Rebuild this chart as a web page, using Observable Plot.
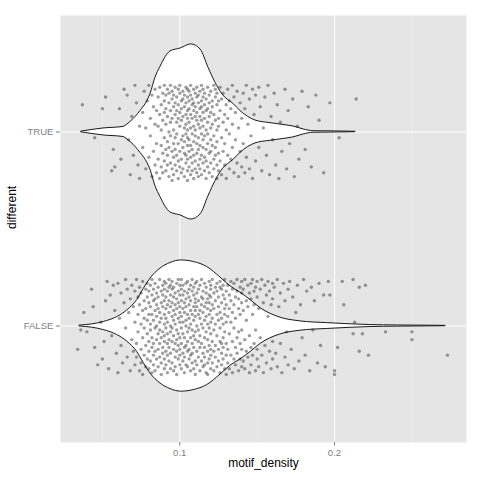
<!DOCTYPE html>
<html><head><meta charset="utf-8">
<script src="https://cdn.jsdelivr.net/npm/d3@7"></script>
<script src="https://cdn.jsdelivr.net/npm/@observablehq/plot@0.6"></script>
<style>body{margin:0;background:#fff;}</style>
</head><body><div id="chart"></div>
<script>
// categories bottom -> top (y positions 1, 2)
const categories = ["FALSE", "TRUE"];
const xTicks = [0.1, 0.2];
const xMinorTicks = [0.05, 0.15, 0.25];
const xLabel = "motif_density";
const yLabel = "different";

// violin outlines: motif_density and half-width (in category units)
const trueViolinX = [.0365,.0507,.0636,.0662,.0714,.0746,.0791,.0811,.0843,.0875,.0908,.0940,.1005,.1074,.1134,.1186,.1231,.1276,.1347,.1392,.1489,.1580,.1670,.1735,.1800,.1864,.1974,.2136];
const trueViolinHalf = [.002,.018,.026,.039,.077,.108,.160,.196,.280,.335,.385,.415,.430,.451,.425,.330,.253,.193,.144,.108,.059,.046,.036,.028,.013,.004,.003,.001];
const falseViolinX = [.0354,.0509,.0595,.0660,.0725,.0767,.0811,.0875,.0940,.1009,.1090,.1177,.1263,.1328,.1392,.1457,.1522,.1651,.1780,.1953,.2104,.2233,.2408,.2718];
const falseViolinHalf = [.002,.021,.046,.080,.134,.191,.245,.296,.325,.338,.330,.304,.250,.204,.172,.134,.092,.043,.024,.015,.009,.005,.003,.001];

// jittered observations: [motif_density, vertical jitter]
const truePoints = [
[.037,.14],[.045,-.03],[.050,.12],[.052,.18],[.056,-.20],[.057,-.09],[.058,-.18],[.061,.12],[.062,-.14],[.064,.22],[.066,.19],[.067,-.04],[.068,-.22],[.069,.08],[.070,-.12],[.071,.24],[.072,.15],[.073,-.17],[.074,.03],[.074,-.24],
[.076,.10],[.076,-.08],[.077,.21],[.078,-.19],[.078,.02],[.079,.16],[.080,-.13],[.080,.24],[.081,-.02],[.081,.07],[.082,-.23],[.082,.19],[.083,-.10],[.083,.13],[.084,-.17],[.084,.04],[.084,.22],[.085,-.06],[.085,.11],[.085,-.21],
[.086,.18],[.086,-.14],[.086,.03],[.087,-.24],[.087,.09],[.087,.23],[.088,-.07],[.088,.14],[.088,-.18],[.088,.01],[.089,.20],[.089,-.11],[.089,.06],[.089,-.21],[.090,.16],[.090,-.03],[.090,.24],[.090,-.15],[.090,.10],[.091,-.09],[.091,.19],[.091,-.20],[.091,.04],[.091,.12],[.092,-.05],[.092,.22],[.092,-.17],[.092,.08],[.092,-.12],[.093,.15],[.093,-.23],[.093,.00],[.093,.20],[.093,-.08],[.094,.11],[.094,-.16],[.094,.05],[.094,.24],[.094,-.02],[.095,-.19],[.095,.17],[.095,-.10],[.095,.07],[.095,.21],[.095,-.25],
[.096,.13],[.096,-.06],[.096,.01],[.096,-.22],[.096,.19],[.096,-.13],[.097,.09],[.097,-.17],[.097,.23],[.097,-.03],[.097,.15],[.097,-.09],[.098,.05],[.098,-.20],[.098,.18],[.098,-.12],[.098,.11],[.098,-.01],[.099,.22],[.099,-.15],[.099,.07],[.099,-.24],[.099,.14],[.099,-.06],[.100,.03],[.100,.20],[.100,-.18],[.100,.10],[.100,-.10],[.100,.24],[.101,-.04],[.101,.16],[.101,-.21],[.101,.06],[.101,-.14],[.101,.12],[.102,-.08],[.102,.21],[.102,-.02],[.102,.17],[.102,-.19],[.102,.08],[.103,-.11],[.103,.02],[.103,.19],[.103,-.23],[.103,.13],[.103,-.05],[.104,.09],[.104,-.16],[.104,.23],[.104,-.01],[.104,.15],[.104,-.12],[.104,.04],[.105,-.20],[.105,.18],[.105,-.07],[.105,.11],[.105,-.25],[.105,.01],[.105,.22],[.105,-.14],[.105,.07],[.105,-.03],
[.106,.16],[.106,-.10],[.106,.05],[.106,-.18],[.106,.21],[.106,-.04],[.106,.12],[.107,-.22],[.107,.09],[.107,-.13],[.107,.19],[.107,-.07],[.107,.02],[.107,.24],[.108,-.16],[.108,.14],[.108,-.01],[.108,.07],[.108,-.20],[.108,.17],[.108,-.09],[.109,.11],[.109,-.24],[.109,.03],[.109,.22],[.109,-.12],[.109,.15],[.109,-.05],[.110,.08],[.110,-.19],[.110,.20],[.110,-.02],[.110,.13],[.110,-.15],[.110,.01],[.111,.18],[.111,-.11],[.111,.06],[.111,-.21],[.111,.23],[.111,-.06],[.111,.10],[.112,-.17],[.112,.15],[.112,-.03],[.112,.04],[.112,-.23],[.112,.19],[.112,-.09],[.113,.12],[.113,-.14],[.113,.02],[.113,.21],[.113,-.19],[.113,.08],[.113,-.07],[.114,.16],[.114,-.12],[.114,.24],[.114,-.01],[.114,.06],[.114,-.22],[.114,.13],[.115,-.08],[.115,.18],[.115,-.16],[.115,.03],[.115,.10],[.115,-.04],[.115,.22],
[.116,-.20],[.116,.14],[.116,-.02],[.116,.07],[.116,-.13],[.116,.20],[.117,-.09],[.117,.11],[.117,-.24],[.117,.01],[.117,.17],[.117,-.15],[.118,.05],[.118,.23],[.118,-.06],[.118,-.18],[.118,.12],[.118,-.01],[.119,.19],[.119,-.11],[.119,.08],[.119,-.21],[.119,.15],[.120,-.04],[.120,.02],[.120,-.16],[.120,.21],[.120,.10],[.120,-.10],[.121,.16],[.121,-.23],[.121,.04],[.121,-.07],[.121,.13],[.122,-.14],[.122,.24],[.122,-.02],[.122,.09],[.122,-.19],[.123,.18],[.123,-.08],[.123,.06],[.123,-.12],[.123,.22],[.124,-.17],[.124,.01],[.124,.14],[.124,-.05],[.124,-.24],[.124,.20],[.125,.07],[.125,-.11],[.125,.16],[.125,-.20],[.125,.03],
[.126,-.15],[.126,.11],[.126,.23],[.127,-.03],[.127,-.22],[.127,.17],[.128,.05],[.128,-.10],[.128,.20],[.129,-.17],[.129,.09],[.129,-.06],[.130,.14],[.130,-.24],[.130,.01],[.131,.22],[.131,-.12],[.131,.07],[.132,-.19],[.132,.16],[.132,-.01],[.133,.12],[.133,-.14],[.134,.24],[.134,-.08],[.134,.04],[.135,-.21],[.135,.18],[.136,-.04],[.136,.10],[.137,-.16],[.137,.21],[.138,.02],[.138,-.23],[.139,.15],[.139,-.10],[.140,.07],[.140,-.18],
[.141,.20],[.141,-.06],[.142,-.21],[.142,.12],[.143,.24],[.143,-.13],[.144,.04],[.145,-.19],[.145,.17],[.146,-.02],[.147,.22],[.147,-.24],[.148,.09],[.149,-.15],[.149,.19],
[.151,-.08],[.151,.23],[.152,.13],[.153,-.20],[.154,.02],[.155,.18],[.156,-.12],[.157,.24],[.158,-.22],[.159,.08],[.160,-.04],[.161,.20],[.162,-.17],[.163,.14],[.164,-.24],[.165,.05],[.166,-.10],[.168,.22],[.169,-.19],[.170,.11],[.171,-.06],[.173,.17],[.174,-.23],[.176,.03],[.177,-.14],[.179,.21],[.181,-.09],[.183,.13],[.185,-.18],[.188,.19],[.190,.06],[.193,-.21],[.197,.15],[.203,-.03],[.214,.17]
];

const falsePoints = [
[.034,-.12],[.036,-.02],[.038,.07],[.040,-.03],[.043,.19],[.044,.10],[.045,-.11],[.047,-.20],[.049,.02],[.050,-.17],[.051,-.08],[.052,.13],[.053,.23],[.054,-.22],[.055,.16],[.056,-.05],[.057,.21],[.058,.08],[.059,-.14],[.060,.22],[.060,-.24],[.061,.04],[.062,.17],[.062,-.10],[.063,-.19],[.064,.12],[.065,.24],[.065,-.01],[.066,-.16],[.066,.19],[.067,.07],[.068,-.23],[.068,.14],[.069,-.07],[.069,.21],[.070,-.13],
[.070,.10],[.071,-.20],[.071,.18],[.071,.02],[.072,-.09],[.072,.24],[.072,-.16],[.073,.06],[.073,.15],[.073,-.03],[.074,-.23],[.074,.20],[.074,.11],[.075,-.12],[.075,.01],[.075,-.19],[.075,.17],[.076,.08],[.076,-.06],[.076,.23],[.076,-.25],[.077,.13],[.077,-.15],[.077,.04],[.077,-.01],[.078,.19],[.078,-.10],[.078,-.21],[.078,.09],[.079,.15],[.079,-.04],[.079,.22],[.079,-.17],[.079,.03],[.080,-.08],[.080,.12],[.080,-.22],[.080,.18],[.080,.06],[.080,-.13],
[.081,.21],[.081,-.02],[.081,-.18],[.081,.10],[.081,.01],[.082,-.11],[.082,.16],[.082,-.24],[.082,.06],[.082,.24],[.082,-.06],[.083,.13],[.083,-.15],[.083,.03],[.083,-.20],[.083,.19],[.083,-.09],[.084,.08],[.084,-.01],[.084,.22],[.084,-.13],[.084,.14],[.084,-.23],[.085,.05],[.085,-.07],[.085,.17],[.085,-.17],[.085,.11],[.085,.00],[.086,-.12],[.086,.20],[.086,-.04],[.086,.09],[.086,-.21],[.086,.15],[.087,-.09],[.087,.02],[.087,.24],[.087,-.16],[.087,.07],[.087,-.02],[.088,.18],[.088,-.19],[.088,.12],[.088,-.06],[.088,.04],[.088,-.25],[.089,.21],[.089,-.11],[.089,.10],[.089,-.03],[.089,.16],[.089,-.14],[.090,.06],[.090,-.22],[.090,.23],[.090,-.08],[.090,.13],[.090,.01],[.090,-.17],[.090,.19],[.090,-.05],
[.091,.09],[.091,-.13],[.091,.22],[.091,-.01],[.091,.15],[.091,-.20],[.091,.04],[.092,-.09],[.092,.18],[.092,-.24],[.092,.11],[.092,-.04],[.092,.02],[.092,-.15],[.093,.20],[.093,-.07],[.093,.13],[.093,-.18],[.093,.07],[.093,.24],[.093,-.11],[.094,.00],[.094,.16],[.094,-.22],[.094,.10],[.094,-.03],[.094,.21],[.094,-.14],[.095,.05],[.095,-.08],[.095,.19],[.095,-.19],[.095,.12],[.095,-.01],[.095,.23],[.096,-.12],[.096,.08],[.096,-.23],[.096,.15],[.096,-.05],[.096,.03],[.096,.20],[.097,-.16],[.097,.11],[.097,-.09],[.097,.17],[.097,.01],[.097,-.21],[.097,.06],[.098,-.02],[.098,.22],[.098,-.13],[.098,.14],[.098,-.25],[.098,.09],[.098,-.07],[.099,.18],[.099,-.17],[.099,.04],[.099,.12],[.099,-.10],[.099,.24],[.099,-.04],[.100,.07],[.100,-.20],[.100,.16],[.100,-.12],[.100,.02],[.100,.21],[.100,-.15],[.100,.10],[.100,-.06],
[.101,.13],[.101,-.22],[.101,.05],[.101,.19],[.101,-.09],[.101,-.01],[.101,.24],[.102,-.14],[.102,.09],[.102,-.18],[.102,.16],[.102,-.04],[.102,.02],[.102,.21],[.103,-.11],[.103,.12],[.103,-.24],[.103,.07],[.103,-.06],[.103,.18],[.103,-.16],[.104,.03],[.104,.22],[.104,-.10],[.104,.14],[.104,-.20],[.104,.00],[.104,.10],[.105,-.13],[.105,.17],[.105,-.03],[.105,.06],[.105,-.21],[.105,.23],[.105,-.08],[.106,.11],[.106,-.17],[.106,.19],[.106,-.01],[.106,.04],[.106,-.12],[.106,.15],[.107,-.23],[.107,.08],[.107,-.06],[.107,.21],[.107,-.15],[.107,.01],[.107,.13],[.108,-.09],[.108,.18],[.108,-.19],[.108,.06],[.108,-.02],[.108,.24],[.108,-.14],[.109,.10],[.109,-.05],[.109,.16],[.109,-.22],[.109,.03],[.109,.20],[.109,-.11],[.110,.08],[.110,-.18],[.110,.14],[.110,-.03],[.110,.22],[.110,-.25],[.110,.12],[.110,-.07],[.110,.05],
[.111,-.13],[.111,.17],[.111,.00],[.111,-.20],[.111,.10],[.111,.23],[.112,-.08],[.112,.06],[.112,-.16],[.112,.19],[.112,-.02],[.112,.13],[.113,-.23],[.113,.04],[.113,-.11],[.113,.21],[.113,.08],[.113,-.05],[.114,.15],[.114,-.18],[.114,.01],[.114,.24],[.114,-.09],[.114,.11],[.115,-.14],[.115,.18],[.115,-.01],[.115,.07],[.115,-.21],[.115,.14],[.116,-.06],[.116,.22],[.116,-.16],[.116,.03],[.116,.10],[.116,-.11],[.117,.17],[.117,-.24],[.117,.05],[.117,-.03],[.117,.20],[.118,-.13],[.118,.09],[.118,-.19],[.118,.14],[.118,-.07],[.118,.01],[.119,.23],[.119,-.10],[.119,.12],[.119,-.17],[.119,.06],[.119,-.01],[.120,.19],[.120,-.22],[.120,.08],[.120,-.12],[.120,.15],[.120,-.04],[.120,.02],[.120,.21],[.120,-.15],[.119,.16],[.118,-.25],[.117,.12],[.116,-.20],
[.121,.11],[.121,-.08],[.121,.24],[.121,-.19],[.121,.04],[.122,-.13],[.122,.17],[.122,-.02],[.122,.09],[.122,-.23],[.123,.20],[.123,-.10],[.123,.13],[.123,-.16],[.123,.01],[.124,.06],[.124,-.21],[.124,.18],[.124,-.05],[.124,.22],[.125,-.12],[.125,.10],[.125,-.18],[.125,.03],[.125,.15],[.126,-.08],[.126,.23],[.126,-.24],[.126,.07],[.126,-.01],[.127,.19],[.127,-.14],[.127,.12],[.127,-.20],[.127,.04],[.128,-.06],[.128,.16],[.128,-.11],[.128,.21],[.128,-.17],[.129,.09],[.129,-.03],[.129,.24],[.129,-.22],[.129,.14],[.130,-.09],[.130,.02],[.130,.18],[.130,-.15],[.130,.11],[.130,-.25],[.129,.06],[.128,.01],[.127,-.09],[.126,.20],
[.131,.21],[.131,-.12],[.131,.05],[.131,-.19],[.132,.16],[.132,-.04],[.132,.09],[.132,-.22],[.133,.23],[.133,-.15],[.133,.02],[.133,.13],[.134,-.08],[.134,.19],[.134,-.24],[.134,.07],[.135,-.17],[.135,.11],[.135,-.01],[.135,.22],[.136,-.11],[.136,.15],[.136,-.20],[.136,.04],[.137,.18],[.137,-.06],[.137,.24],[.137,-.14],[.138,.09],[.138,-.23],[.138,.14],[.138,-.03],[.139,.20],[.139,-.17],[.139,.06],[.139,-.09],[.140,.12],[.140,-.21],[.140,.17],[.140,-.02],[.140,.23],[.140,-.12],
[.141,.08],[.141,-.18],[.141,.19],[.142,-.07],[.142,.24],[.142,-.22],[.143,.13],[.143,-.13],[.143,.03],[.144,.21],[.144,-.16],[.144,.10],[.145,-.24],[.145,.17],[.145,-.05],[.146,.22],[.146,-.11],[.146,.14],[.146,-.20],[.147,.06],[.147,.24],[.147,-.15],[.148,.18],[.148,-.09],[.148,.11],[.149,-.23],[.149,.20],[.149,-.02],[.150,.15],[.150,-.17],[.150,.23],[.150,-.12],
[.151,.09],[.151,-.21],[.152,.19],[.152,-.06],[.153,.24],[.153,-.15],[.154,.12],[.154,-.24],[.155,.21],[.155,-.10],[.156,.16],[.156,-.19],[.157,.05],[.157,.23],[.158,-.13],[.158,.18],[.159,-.22],[.159,.11],[.160,.22],[.160,-.08],[.160,-.17],[.160,.14],
[.161,.20],[.162,-.14],[.163,.24],[.163,-.21],[.164,.10],[.165,-.09],[.165,.17],[.166,-.24],[.167,.22],[.168,-.16],[.168,.13],[.169,-.03],[.170,.19],[.170,-.20],
[.171,.23],[.172,-.12],[.173,.15],[.174,-.22],[.175,.07],[.176,.21],[.177,-.18],[.178,.11],[.179,-.06],[.180,.24],
[.181,-.15],[.182,.18],[.184,-.23],[.185,.20],[.186,-.02],[.187,.13],[.189,-.19],[.190,.22],
[.191,-.10],[.193,.16],[.194,-.21],[.196,.23],[.197,.16],[.200,-.23],[.200,-.25],
[.202,-.11],[.205,.23],[.206,.11],[.212,.24],[.212,-.04],[.213,.02],[.216,-.13],[.216,.20],[.218,-.04],[.220,.21],[.222,-.15],[.233,-.03],[.250,-.03],[.250,-.07],[.273,-.15]
];

const violinSeries = [
  {cat: "FALSE", xs: falseViolinX, hs: falseViolinHalf},
  {cat: "TRUE", xs: trueViolinX, hs: trueViolinHalf}
];
const violinData = violinSeries.flatMap(s => {
  const pos = categories.indexOf(s.cat) + 1;
  return s.xs.map((x, i) => ({cat: s.cat, x, y1: pos - s.hs[i], y2: pos + s.hs[i]}));
});
const pointData = [
  ...falsePoints.map(([x, j]) => ({cat: "FALSE", x, y: categories.indexOf("FALSE") + 1 + j})),
  ...truePoints.map(([x, j]) => ({cat: "TRUE", x, y: categories.indexOf("TRUE") + 1 + j}))
];

const grey50 = "#7F7F7F";
const chart = Plot.plot({
  width: 480,
  height: 480,
  marginLeft: 60,
  marginRight: 14,
  marginTop: 15,
  marginBottom: 38,
  style: {fontFamily: "'Liberation Sans', Arial, sans-serif", fontSize: "9.6px", background: "white"},
  x: {domain: [0.0229, 0.2853]},
  y: {domain: [0.4, 2.6]},
  marks: [
    Plot.frame({fill: "#E5E5E5", stroke: null}),
    Plot.ruleX(xMinorTicks, {stroke: "#F2F2F2", strokeWidth: 0.6}),
    Plot.ruleX(xTicks, {stroke: "white", strokeWidth: 1}),
    Plot.ruleY(categories.map((c, i) => i + 1), {stroke: "white", strokeWidth: 1}),
    Plot.areaY(violinData, {x: "x", y1: "y1", y2: "y2", z: "cat", fill: "white", stroke: "#1a1a1a", strokeWidth: 1, curve: "monotone-x"}),
    Plot.dot(pointData, {x: "x", y: "y", r: 1.7, fill: "black", fillOpacity: 0.38, stroke: null}),
    Plot.axisX({ticks: xTicks, tickFormat: d => String(d), tickSize: 3.5, tickPadding: 3, color: grey50, fontSize: 9.6, label: null}),
    Plot.axisY({ticks: categories.map((c, i) => i + 1), tickFormat: d => categories[d - 1], tickSize: 4, tickPadding: 3, color: grey50, fontSize: 9.6, label: null}),
    Plot.text([xLabel], {text: d => d, frameAnchor: "bottom", dy: 24, fontSize: 12, fill: "black"}),
    Plot.text([yLabel], {text: d => d, frameAnchor: "left", dx: -48, rotate: -90, fontSize: 12, fill: "black"})
  ]
});
document.getElementById("chart").appendChild(chart);
</script>
</body></html>
